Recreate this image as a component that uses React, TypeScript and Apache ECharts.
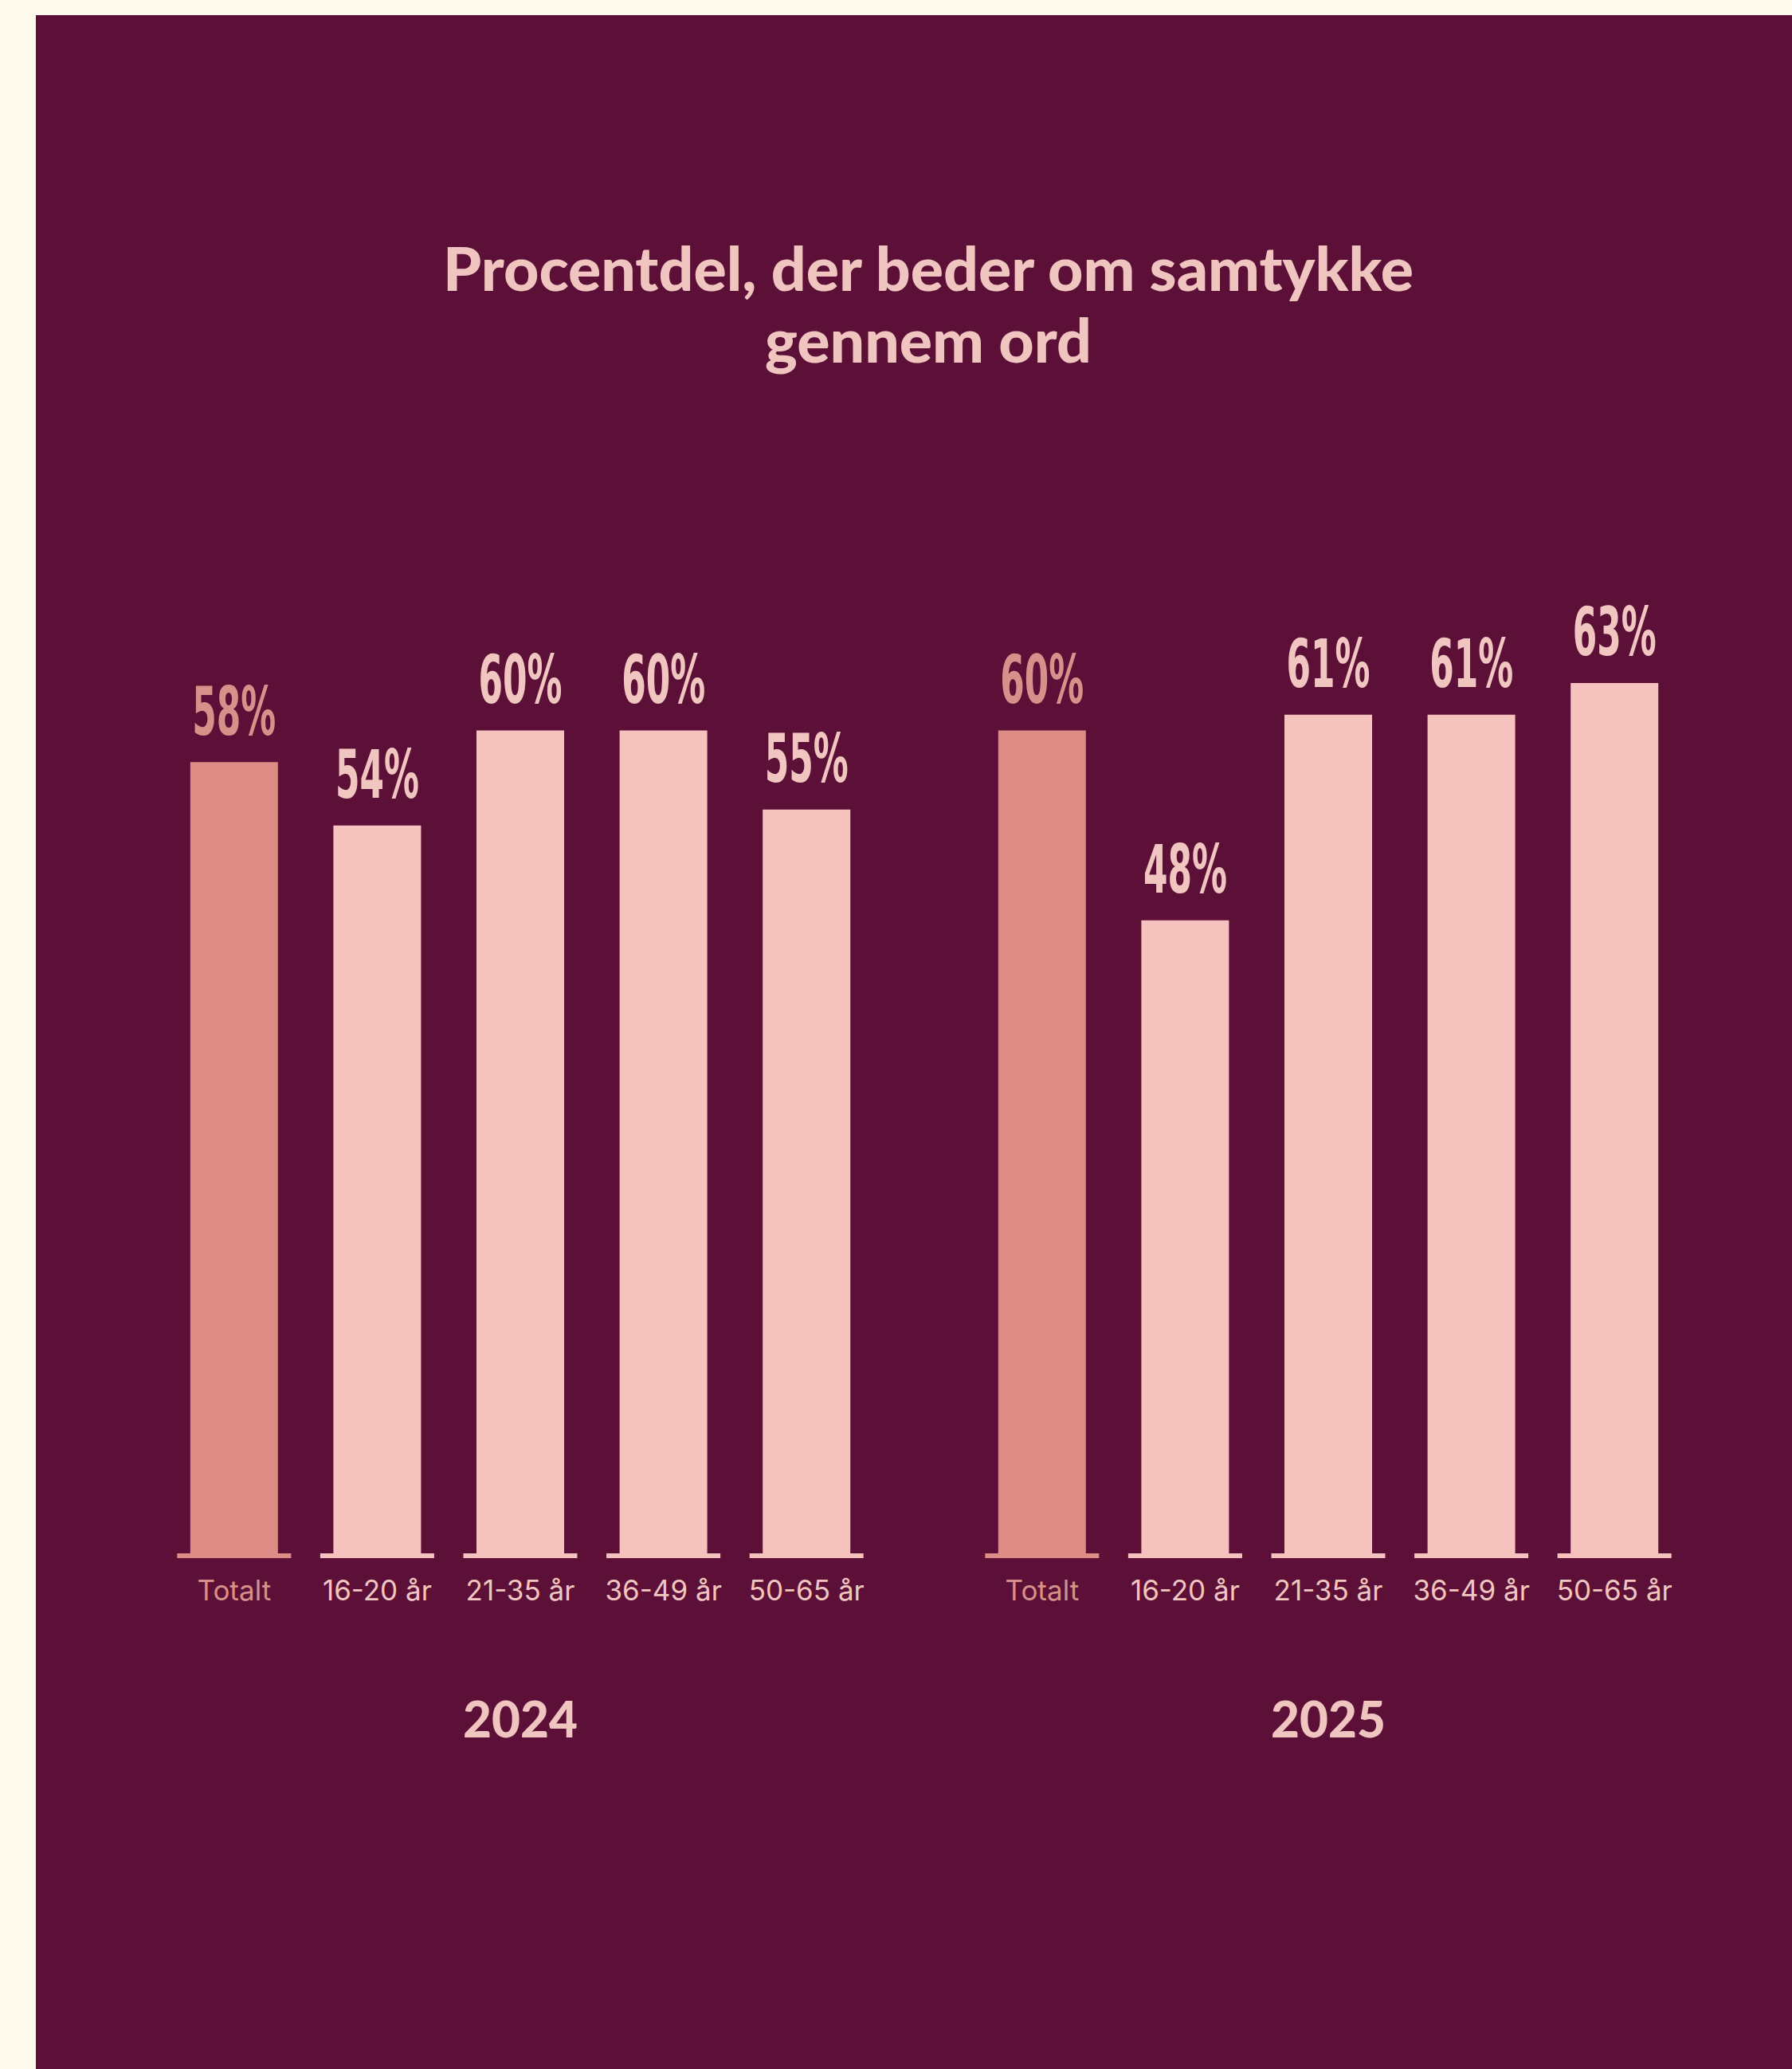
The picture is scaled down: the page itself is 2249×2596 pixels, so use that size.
import React, { useEffect, useRef } from "react";
import * as echarts from "echarts";

const TITLE_LINES = ["Procentdel, der beder om samtykke", "gennem ord"];
const categories = ["Totalt", "16-20 år", "21-35 år", "36-49 år", "50-65 år"];
const years = ["2024", "2025"];
const values2024 = [58, 54, 60, 60, 55];
const values2025 = [60, 48, 61, 61, 63];

const Y_MIN = 8;
const Y_MAX = 70;

const W = 2249;
const H = 2596;
const CREAM = "#FDF9EC";
const PLUM = "#5C1037";
const PINK = "#F6C2BE";
const ROSE = "#DD8C85";
const PINK_TEXT = "#F1C6C1";
const ROSE_TEXT = "#D6918A";
const NARROW = "'DejaVu Sans Condensed', 'Liberation Sans Narrow', sans-serif";
const GRID_TOP = 718;
const GRID_H = 1231;
const GRID_W = 898;
const GRID_LEFTS = [204, 1218];

function overlaySeries(vals: number[], gi: number) {
  return {
    type: "custom",
    xAxisIndex: gi,
    yAxisIndex: gi,
    clip: false,
    z: 3,
    silent: true,
    data: vals.map((v, i) => [i, v]),
    renderItem: (params: any, api: any) => {
      const i = api.value(0);
      const v = api.value(1);
      const top = api.coord([i, v]);
      const base = api.coord([i, Y_MIN]);
      const total = i === 0;
      return {
        type: "group",
        children: [
          {
            type: "rect",
            shape: { x: base[0] - 71.5, y: base[1], width: 143, height: 6 },
            style: { fill: total ? ROSE : PINK },
          },
          {
            type: "text",
            x: top[0],
            y: top[1] - 22,
            scaleX: 0.58,
            style: {
              text: v + "%",
              fontSize: 84,
              fontWeight: "bold",
              fontFamily: NARROW,
              fill: total ? ROSE_TEXT : PINK_TEXT,
              align: "center",
              verticalAlign: "bottom",
            },
          },
        ],
      };
    },
  };
}

function barSeries(vals: number[], gi: number) {
  return {
    type: "bar",
    xAxisIndex: gi,
    yAxisIndex: gi,
    barWidth: 110,
    z: 2,
    data: vals.map((v, i) => ({
      value: v,
      itemStyle: { color: i === 0 ? ROSE : PINK },
    })),
  };
}

export default function App() {
  const ref = useRef<HTMLDivElement>(null);

  useEffect(() => {
    if (!ref.current) return;
    const chart = echarts.init(ref.current, null, { renderer: "svg" });
    const allVals = [values2024, values2025];
    chart.setOption({
      animation: false,
      backgroundColor: "transparent",
      title: {
        text: TITLE_LINES.join("\n"),
        left: 1160,
        top: 285,
        textAlign: "center",
        textStyle: {
          fontFamily: "Lato, sans-serif",
          fontWeight: 900,
          fontSize: 77,
          lineHeight: 90,
          color: "#F0C5C0",
        },
      },
      grid: GRID_LEFTS.map((l) => ({
        left: l,
        top: GRID_TOP,
        width: GRID_W,
        height: GRID_H,
        containLabel: false,
      })),
      xAxis: years.map((y, gi) => ({
        type: "category",
        gridIndex: gi,
        data: categories,
        axisLine: { show: false },
        axisTick: { show: false },
        splitLine: { show: false },
        axisLabel: {
          interval: 0,
          hideOverlap: false,
          margin: 28,
          fontSize: 35,
          fontFamily: "Inter, sans-serif",
          color: (_v: any, idx: number) => (idx === 0 ? ROSE_TEXT : PINK_TEXT),
        },
        name: y,
        nameLocation: "middle",
        nameGap: 176,
        nameTextStyle: {
          fontSize: 62,
          fontWeight: 900,
          fontFamily: "Lato, sans-serif",
          color: "#F0C5C0",
        },
      })),
      yAxis: years.map((_y, gi) => ({
        type: "value",
        gridIndex: gi,
        min: Y_MIN,
        max: Y_MAX,
        show: false,
        splitLine: { show: false },
      })),
      series: [
        ...allVals.map((v, gi) => barSeries(v, gi)),
        ...allVals.map((v, gi) => overlaySeries(v, gi)),
      ],
    });
    return () => chart.dispose();
  }, []);

  return (
    <div
      style={{
        position: "absolute",
        left: 0,
        top: 0,
        width: W,
        height: H,
        background: CREAM,
        overflow: "hidden",
      }}
    >
      <div
        style={{
          position: "absolute",
          left: 45,
          top: 19,
          width: W - 45,
          height: H - 19,
          background: PLUM,
        }}
      />
      <div
        ref={ref}
        style={{ position: "absolute", left: 0, top: 0, width: W, height: H }}
      />
    </div>
  );
}
